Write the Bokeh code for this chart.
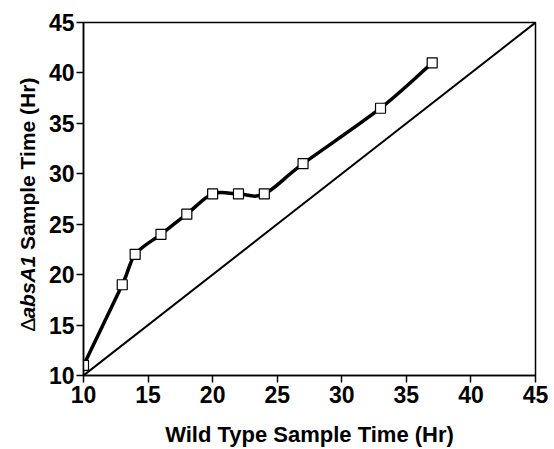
import math
from bokeh.plotting import figure
from bokeh.models import Range1d, FixedTicker
from bokeh.layouts import row
from bokeh.core.properties import value
from bokeh.embed import file_html
from bokeh.resources import INLINE

wild_type = [10, 13, 14, 16, 18, 20, 22, 24, 27, 33, 37]
absA1 = [11, 19, 22, 24, 26, 28, 28, 28, 31, 36.5, 41]
diag_x = [10, 45]
diag_y = [10, 45]
ticks = [10, 15, 20, 25, 30, 35, 40, 45]
ylabel_parts = ["\u0394", "absA1", "Sample Time (Hr)"]

FONT = "Liberation Sans"
LEFT_W = 40

p = figure(width=554 - LEFT_W, height=449, output_backend="svg", toolbar_location=None,
           x_range=Range1d(10, 45), y_range=Range1d(10, 45),
           min_border_left=83 - LEFT_W, min_border_right=19, min_border_top=22,
           min_border_bottom=73)
p.xgrid.visible = False
p.ygrid.visible = False
p.outline_line_color = "black"
p.outline_line_width = 1.5
p.background_fill_color = "white"
p.border_fill_color = "white"

for ax in (p.xaxis[0], p.yaxis[0]):
    ax.ticker = FixedTicker(ticks=ticks)
    ax.minor_tick_line_color = None
    ax.major_tick_in = 0
    ax.major_tick_out = 7
    ax.major_tick_line_width = 1.5
    ax.axis_line_width = 1.5
    ax.major_label_text_font = FONT
    ax.major_label_text_font_style = "bold"
    ax.major_label_text_font_size = "23px"
    ax.major_label_text_color = "black"

p.xaxis[0].major_label_standoff = 3
p.yaxis[0].major_label_standoff = 2
p.xaxis[0].axis_label = "Wild Type Sample Time (Hr)"
p.xaxis[0].axis_label_text_font = FONT
p.xaxis[0].axis_label_text_font_style = "bold"
p.xaxis[0].axis_label_text_font_size = "22px"
p.xaxis[0].axis_label_text_color = "black"
p.xaxis[0].axis_label_standoff = 16

# diagonal reference line
p.line(diag_x, diag_y, line_color="black", line_width=2)

# smoothed curve through data (bezier segments, Catmull-Rom style control points)
n = len(wild_type)
x0, y0, x1, y1, cx0, cy0, cx1, cy1 = [], [], [], [], [], [], [], []
for i in range(n - 1):
    xa, ya = wild_type[i], absA1[i]
    xb, yb = wild_type[i + 1], absA1[i + 1]
    xp, yp = (wild_type[i - 1], absA1[i - 1]) if i > 0 else (xa, ya)
    xn, yn = (wild_type[i + 2], absA1[i + 2]) if i + 2 < n else (xb, yb)
    x0.append(xa); y0.append(ya); x1.append(xb); y1.append(yb)
    cx0.append(xa + (xb - xp) / 6); cy0.append(ya + (yb - yp) / 6)
    cx1.append(xb - (xn - xa) / 6); cy1.append(yb - (yn - ya) / 6)
p.bezier(x0=x0, y0=y0, x1=x1, y1=y1, cx0=cx0, cy0=cy0, cx1=cx1, cy1=cy1,
         line_color="black", line_width=3.5)

p.scatter(wild_type, absA1, marker="square", size=10, fill_color="white",
          line_color="black", line_width=1.2)

# narrow left panel carrying the mixed-style y-axis label; shares the y scale
q = figure(width=LEFT_W, height=449, output_backend="svg", toolbar_location=None,
           x_range=Range1d(0, LEFT_W), y_range=p.y_range,
           min_border=0, min_border_left=0, min_border_right=0,
           min_border_top=22, min_border_bottom=73)
q.axis.visible = False
q.xgrid.visible = False
q.ygrid.visible = False
q.outline_line_color = None
q.background_fill_color = "white"
q.border_fill_color = "white"

lx = 27
q.text(x=[lx], y=[14.35], text=[ylabel_parts[0]], angle=math.pi / 2,
       text_align="left", text_baseline="middle", text_font=value(FONT),
       text_font_size="21px", text_color="black")
q.text(x=[lx], y=[15.64], text=[ylabel_parts[1]], angle=math.pi / 2,
       text_align="left", text_baseline="middle", text_font=value(FONT),
       text_font_style="bold italic", text_font_size="21px", text_color="black")
q.text(x=[lx], y=[22.45], text=[ylabel_parts[2]], angle=math.pi / 2,
       text_align="left", text_baseline="middle", text_font=value(FONT),
       text_font_style="bold", text_font_size="21px", text_color="black")

layout = row(q, p, spacing=0)
open("out.html", "w").write(file_html(layout, INLINE))
